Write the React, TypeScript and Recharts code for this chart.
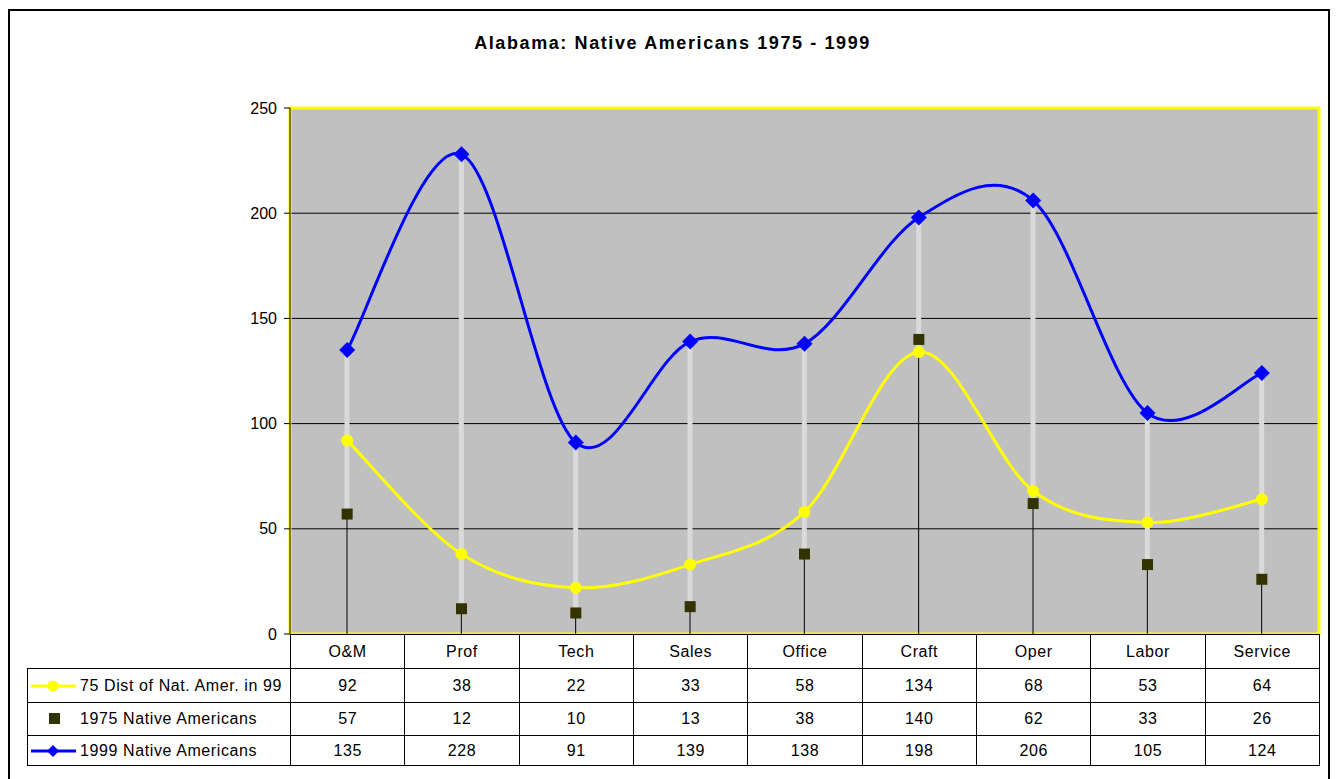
import React from 'react';
import {
    ComposedChart,
    Line,
    Bar,
    XAxis,
    YAxis,
    CartesianGrid,
    ReferenceArea,
} from 'recharts';

const categories = ['O&M', 'Prof', 'Tech', 'Sales', 'Office', 'Craft', 'Oper', 'Labor', 'Service'];
const dist75 = [92, 38, 22, 33, 58, 134, 68, 53, 64];
const native1975 = [57, 12, 10, 13, 38, 140, 62, 33, 26];
const native1999 = [135, 228, 91, 139, 138, 198, 206, 105, 124];
const yTicks = [0, 50, 100, 150, 200, 250];

const seriesNames = ['75 Dist of Nat. Amer. in 99', '1975 Native Americans', '1999 Native Americans'];
const tableRows = [dist75, native1975, native1999];

const FONT = "Arial, 'Liberation Sans', sans-serif";
const YELLOW = '#FFFF00';
const BLUE = '#0000FF';
const OLIVE = '#333300';

const data = categories.map((cat, i) => {
    const vals = [dist75[i], native1975[i], native1999[i]];
    return {
        cat,
        dist: dist75[i],
        n75: native1975[i],
        n99: native1999[i],
        lo: Math.min(...vals),
        hi: Math.max(...vals),
    };
});

// smoothing similar to Excel's "smoothed line" (catmull-rom style bezier)
const excelSmooth = (context: any) => {
    let pts: number[][] = [];
    return {
        areaStart() {},
        areaEnd() {},
        lineStart() {
            pts = [];
        },
        point(x: number, y: number) {
            pts.push([+x, +y]);
        },
        lineEnd() {
            const n = pts.length;
            if (!n) return;
            context.moveTo(pts[0][0], pts[0][1]);
            for (let i = 0; i < n - 1; i++) {
                const p0 = pts[Math.max(i - 1, 0)];
                const p1 = pts[i];
                const p2 = pts[i + 1];
                const p3 = pts[Math.min(i + 2, n - 1)];
                context.bezierCurveTo(
                    p1[0] + (p2[0] - p0[0]) / 6,
                    p1[1] + (p2[1] - p0[1]) / 6,
                    p2[0] - (p3[0] - p1[0]) / 6,
                    p2[1] - (p3[1] - p1[1]) / 6,
                    p2[0],
                    p2[1]
                );
            }
        },
    };
};

// drop line (black) from axis up to lowest value, hi-lo line (light gray) above it
const DropHiLo = (props: any) => {
    const { x, y, width, height, payload } = props;
    if (height == null || !payload) return null;
    const cx = x + width / 2;
    const bottom = y + height;
    const loY = y + height * (1 - payload.lo / payload.hi);
    return (
        <g>
            <line x1={cx} y1={bottom} x2={cx} y2={loY} stroke="#000" strokeWidth={1} />
            <line x1={cx} y1={loY} x2={cx} y2={y} stroke="#DADADA" strokeWidth={5} />
        </g>
    );
};

const YellowDot = (props: any) => {
    const { cx, cy } = props;
    return <circle cx={cx} cy={cy} r={6} fill={YELLOW} />;
};

const SquareDot = (props: any) => {
    const { cx, cy } = props;
    return <rect x={cx - 5.5} y={cy - 5.5} width={11} height={11} fill={OLIVE} />;
};

const DiamondDot = (props: any) => {
    const { cx, cy } = props;
    const r = 8;
    return (
        <path
            d={`M${cx},${cy - r}L${cx + r},${cy}L${cx},${cy + r}L${cx - r},${cy}Z`}
            fill={BLUE}
        />
    );
};

const LegendKey = ({ idx }: { idx: number }) => {
    if (idx === 1) {
        return (
            <svg width={50} height={20} style={{ display: 'block' }}>
                <rect x={21} y={4} width={11} height={11} fill={OLIVE} />
            </svg>
        );
    }
    const color = idx === 0 ? YELLOW : BLUE;
    return (
        <svg width={50} height={20} style={{ display: 'block' }}>
            <line x1={3} y1={10} x2={48} y2={10} stroke={color} strokeWidth={3} />
            {idx === 0 ? (
                <circle cx={25} cy={10} r={5.5} fill={color} />
            ) : (
                <path d="M25,4L31,10L25,16L19,10Z" fill={color} />
            )}
        </svg>
    );
};

const PLOT_LEFT = 290;
const PLOT_RIGHT = 1319;
const TABLE_LEFT = 27;
const rowTops = [634, 668, 702, 735, 765];

const DataTable = () => {
    const colW = (PLOT_RIGHT - PLOT_LEFT) / categories.length;
    const cell: React.CSSProperties = {
        position: 'absolute',
        boxSizing: 'border-box',
        border: '1px solid #000',
        display: 'flex',
        alignItems: 'center',
        justifyContent: 'center',
        fontFamily: FONT,
        fontSize: 16,
        letterSpacing: 0.6,
        color: '#000',
        background: '#fff',
    };
    const out: React.ReactNode[] = [];
    categories.forEach((c, i) => {
        out.push(
            <div
                key={'h' + i}
                style={{
                    ...cell,
                    left: PLOT_LEFT + i * colW,
                    top: rowTops[0],
                    width: colW + 1,
                    height: rowTops[1] - rowTops[0] + 1,
                }}
            >
                {c}
            </div>
        );
    });
    tableRows.forEach((row, r) => {
        const top = rowTops[r + 1];
        const h = rowTops[r + 2] - top + 1;
        out.push(
            <div
                key={'l' + r}
                style={{
                    ...cell,
                    left: TABLE_LEFT,
                    top,
                    width: PLOT_LEFT - TABLE_LEFT + 1,
                    height: h,
                    justifyContent: 'flex-start',
                }}
            >
                <LegendKey idx={r} />
                <span style={{ marginLeft: 2 }}>{seriesNames[r]}</span>
            </div>
        );
        row.forEach((v, i) => {
            out.push(
                <div
                    key={'c' + r + '-' + i}
                    style={{
                        ...cell,
                        left: PLOT_LEFT + i * colW,
                        top,
                        width: colW + 1,
                        height: h,
                    }}
                >
                    {v}
                </div>
            );
        });
    });
    return <>{out}</>;
};

const App = () => {
    return (
        <div style={{ position: 'fixed', left: 0, top: 0, width: 1338, height: 779, background: '#fff', overflow: 'hidden' }}>
            <div
                style={{
                    position: 'absolute',
                    left: 8,
                    top: 9,
                    width: 1322,
                    height: 800,
                    border: '2px solid #000',
                    boxSizing: 'border-box',
                }}
            />
            <div
                style={{
                    position: 'absolute',
                    left: 0,
                    width: 1345,
                    top: 33,
                    textAlign: 'center',
                    fontFamily: FONT,
                    fontWeight: 'bold',
                    fontSize: 18,
                    letterSpacing: 1.6,
                }}
            >
                Alabama: Native Americans 1975 - 1999
            </div>
            <div style={{ position: 'absolute', left: 0, top: 0 }}>
                <ComposedChart
                    width={1338}
                    height={779}
                    data={data}
                    margin={{ top: 108, right: 1338 - PLOT_RIGHT, bottom: 779 - 634, left: PLOT_LEFT - 60 }}
                >
                    <CartesianGrid fill="#C0C0C0" stroke="#000" vertical={false} />
                    <ReferenceArea y1={0} y2={250} fill="none" stroke={YELLOW} strokeWidth={3} ifOverflow="visible" />
                    <XAxis dataKey="cat" hide />
                    <YAxis
                        width={60}
                        domain={[0, 250]}
                        ticks={yTicks}
                        interval={0}
                        axisLine={{ stroke: '#000' }}
                        tickLine={{ stroke: '#000' }}
                        tickSize={6}
                        tickMargin={7}
                        tick={{ fill: '#000', fontFamily: FONT, fontSize: 16 }}
                    />
                    <Bar dataKey="hi" barSize={10} shape={<DropHiLo />} isAnimationActive={false} />
                    <Line
                        dataKey="dist"
                        type={excelSmooth as any}
                        stroke={YELLOW}
                        strokeWidth={3}
                        dot={<YellowDot />}
                        activeDot={false}
                        isAnimationActive={false}
                    />
                    <Line
                        dataKey="n75"
                        stroke="none"
                        dot={<SquareDot />}
                        activeDot={false}
                        isAnimationActive={false}
                    />
                    <Line
                        dataKey="n99"
                        type={excelSmooth as any}
                        stroke={BLUE}
                        strokeWidth={3}
                        dot={<DiamondDot />}
                        activeDot={false}
                        isAnimationActive={false}
                    />
                </ComposedChart>
            </div>
            <DataTable />
        </div>
    );
};

export default App;
